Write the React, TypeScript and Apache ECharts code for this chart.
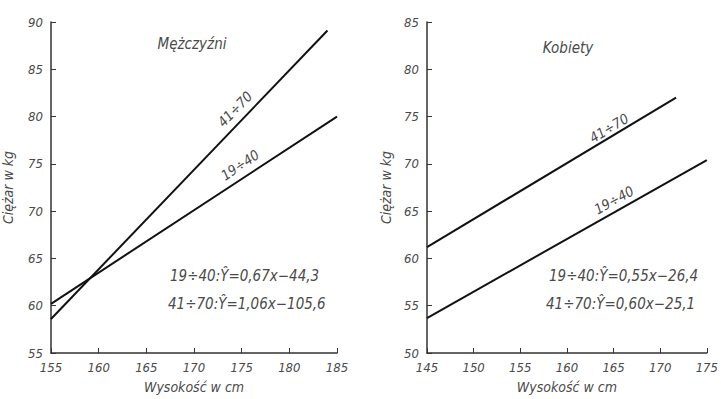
import React, { useEffect, useRef } from "react";
import * as echarts from "echarts";

// Men (Mężczyźni): regression lines, [height cm, weight kg]
const menYoung: [number, number][] = [[155, 60.2], [185, 80.0]]; // 19÷40
const menOld: [number, number][] = [[155, 58.6], [184, 89.1]]; // 41÷70
// Women (Kobiety)
const womenYoung: [number, number][] = [[145, 53.7], [175, 70.4]]; // 19÷40
const womenOld: [number, number][] = [[145, 61.2], [171.7, 77.0]]; // 41÷70

const menX = { min: 155, max: 185, interval: 5 };
const menY = { min: 55, max: 90, interval: 5 };
const womenX = { min: 145, max: 175, interval: 5 };
const womenY = { min: 50, max: 85, interval: 5 };

const titles = ["Mężczyźni", "Kobiety"];
const xName = "Wysokość w cm";
const yName = "Ciężar w kg";
const groupLabels = ["41÷70", "19÷40"];
const menEquations = ["19÷40:Ŷ=0,67x−44,3", "41÷70:Ŷ=1,06x−105,6"];
const womenEquations = ["19÷40:Ŷ=0,55x−26,4", "41÷70:Ŷ=0,60x−25,1"];

const FONT = "'DejaVu Sans Condensed', 'DejaVu Sans', sans-serif";
const TXT = "#4a4a4a";
const AX = "#333";

export default function App() {
  const ref = useRef<HTMLDivElement>(null);
  useEffect(() => {
    if (!ref.current) return;
    const chart = echarts.init(ref.current, null, { renderer: "svg" });
    const axisCommon = {
      type: "value" as const,
      axisLine: { show: true, lineStyle: { color: AX, width: 1.5 } },
      axisTick: { show: true, inside: true, length: 5, lineStyle: { color: AX, width: 1 } },
      splitLine: { show: false },
      axisLabel: { color: TXT, fontFamily: FONT, fontStyle: "italic" as const, fontSize: 13 },
      nameLocation: "middle" as const,
      nameTextStyle: { color: TXT, fontFamily: FONT, fontStyle: "italic" as const, fontSize: 14 },
    };
    const lineSeries = (data: [number, number][], idx: number) => ({
      type: "line" as const,
      xAxisIndex: idx,
      yAxisIndex: idx,
      data,
      symbol: "none",
      lineStyle: { color: "#111", width: 2 },
    });
    const txt = (text: string, x: number, y: number, rotDeg = 0, align = "center", size = 14) => ({
      type: "text" as const,
      x,
      y,
      rotation: (rotDeg * Math.PI) / 180,
      style: {
        text,
        fill: TXT,
        font: `italic ${size}px ${FONT}`,
        align,
        verticalAlign: "middle",
      },
    });
    chart.setOption({
      animation: false,
      backgroundColor: "#fff",
      grid: [
        { left: 49, top: 22, width: 288, height: 338 },
        { left: 427, top: 22, width: 286, height: 338 },
      ],
      xAxis: [
        { ...axisCommon, gridIndex: 0, ...menX, name: xName, nameGap: 27, axisLabel: { ...axisCommon.axisLabel, margin: 8 } },
        { ...axisCommon, gridIndex: 1, ...womenX, name: xName, nameGap: 27, axisLabel: { ...axisCommon.axisLabel, margin: 8 } },
      ],
      yAxis: [
        { ...axisCommon, gridIndex: 0, ...menY, name: yName, nameGap: 36 },
        { ...axisCommon, gridIndex: 1, ...womenY, name: yName, nameGap: 34 },
      ],
      series: [
        lineSeries(menYoung, 0),
        lineSeries(menOld, 0),
        lineSeries(womenYoung, 1),
        lineSeries(womenOld, 1),
      ],
      graphic: [
        txt(titles[0], 192, 44, 0, "center", 15),
        txt(titles[1], 568, 48, 0, "center", 15),
        txt(groupLabels[0], 235, 109, 46),
        txt(groupLabels[1], 240, 165, 34),
        txt(groupLabels[0], 609, 128, 31),
        txt(groupLabels[1], 614, 200, 29),
        txt(menEquations[0], 170, 276, 0, "left", 15),
        txt(menEquations[1], 168, 304, 0, "left", 15),
        txt(womenEquations[0], 549, 276, 0, "left", 15),
        txt(womenEquations[1], 546, 304, 0, "left", 15),
      ],
    });
    return () => chart.dispose();
  }, []);
  return (
    <div
      ref={ref}
      style={{ position: "fixed", left: 0, top: 0, width: 721, height: 399, background: "#fff" }}
    />
  );
}
